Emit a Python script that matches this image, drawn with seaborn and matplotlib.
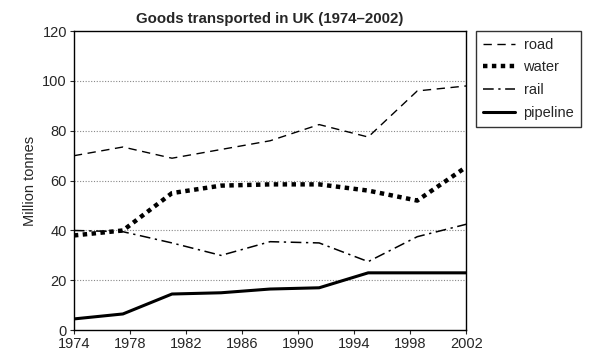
import matplotlib
matplotlib.use('Agg')
import matplotlib.pyplot as plt
import seaborn as sns
import pandas as pd

# data (9 points, every 3.5 years)
years = [1974, 1977.5, 1981, 1984.5, 1988, 1991.5, 1995, 1998.5, 2002]
road = [70, 73.5, 69, 72.5, 76, 82.5, 77.5, 96, 98]
water = [38, 40, 55, 58, 58.5, 58.5, 56, 52, 65.5]
rail = [40, 39.5, 35, 30, 35.5, 35, 27.5, 37.5, 42.5]
pipeline = [4.5, 6.5, 14.5, 15, 16.5, 17, 23, 23, 23]

x_ticks = [1974, 1978, 1982, 1986, 1990, 1994, 1998, 2002]
y_ticks = [0, 20, 40, 60, 80, 100, 120]

sns.set_style('white')
plt.rcParams['font.family'] = ['Liberation Sans', 'DejaVu Sans']

fig = plt.figure(figsize=(5.91, 3.62), dpi=100)
ax = fig.add_axes([0.125, 0.088, 0.664, 0.826])

series = [
    ('road', road, (0, (6, 4)), 1.0),
    ('water', water, (0, (1, 1)), 3.2),
    ('rail', rail, (0, (7, 3, 1.5, 3)), 1.1),
    ('pipeline', pipeline, '-', 2.2),
]
for name, vals, ls, lw in series:
    df = pd.DataFrame({'year': years, 'value': vals})
    sns.lineplot(data=df, x='year', y='value', ax=ax, color='black',
                 linestyle=ls, linewidth=lw, label=name)

for y in y_ticks[1:-1]:
    ax.axhline(y, color='#888888', linestyle=(0, (1, 1.5)), linewidth=0.8, zorder=0)

ax.set_xlim(1974, 2002)
ax.set_ylim(0, 120)
ax.set_xticks(x_ticks)
ax.set_yticks(y_ticks)
ax.tick_params(axis='both', direction='out', length=3, width=0.8, labelsize=10.5,
               bottom=True, left=True, pad=2)
for s in ax.spines.values():
    s.set_color('black')
    s.set_linewidth(1.0)

ax.set_xlabel('')
ax.set_ylabel('Million tonnes', fontsize=10.5, labelpad=4)
ax.set_title('Goods transported in UK (1974\u20132002)', fontsize=10.8,
             fontweight='bold', pad=6)

leg = ax.legend(loc='upper left', bbox_to_anchor=(1.025, 1.0), frameon=True,
                fancybox=False, edgecolor='black', fontsize=10.5,
                handlelength=2.2, handletextpad=0.6, borderpad=0.45,
                labelspacing=0.6, borderaxespad=0)
leg.get_frame().set_linewidth(1.0)

fig.savefig('out.png', dpi=100)
